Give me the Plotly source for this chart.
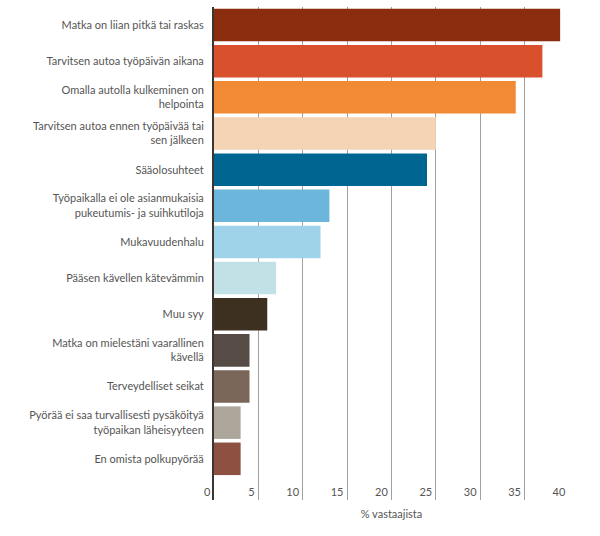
import plotly.graph_objects as go

categories = [
    "Matka on liian pitkä tai raskas",
    "Tarvitsen autoa työpäivän aikana",
    "Omalla autolla kulkeminen on<br>helpointa",
    "Tarvitsen autoa ennen työpäivää tai<br>sen jälkeen",
    "Sääolosuhteet",
    "Työpaikalla ei ole asianmukaisia<br>pukeutumis- ja suihkutiloja",
    "Mukavuudenhalu",
    "Pääsen kävellen kätevämmin",
    "Muu syy",
    "Matka on mielestäni vaarallinen<br>kävellä",
    "Terveydelliset seikat",
    "Pyörää ei saa turvallisesti pysäköityä<br>työpaikan läheisyyteen",
    "En omista polkupyörää",
]
values = [39, 37, 34, 25, 24, 13, 12, 7, 6, 4, 4, 3, 3]
colors = ["#8a2c0e", "#d9512c", "#f08a35", "#f4d4b4", "#006590", "#6cb6dc",
          "#9fd3e9", "#c2e1e7", "#3e3020", "#564b45", "#7a6759", "#ada69b", "#8c5141"]
tick_values = [0, 5, 10, 15, 20, 25, 30, 35, 40]
tick_labels = ["0", "5", "10", "15", "20", "25", "30", "35", "40"]

fig = go.Figure(go.Bar(
    x=values, y=categories, orientation="h",
    marker=dict(color=colors, line=dict(width=0)),
    hoverinfo="x+y",
))

font_family = "Lato"
n = len(categories)
fig.update_layout(
    width=600, height=536,
    margin=dict(l=214, r=31, t=7, b=36),
    plot_bgcolor="white", paper_bgcolor="white",
    bargap=0.1,
    showlegend=False,
    font=dict(family=font_family, size=11, color="#555555"),
)
fig.update_xaxes(
    range=[0, 40], tickvals=tick_values,
    ticktext=[t + "\u2004" for t in tick_labels], automargin=False,
    showgrid=True, gridcolor="#a0a0a0", gridwidth=1,
    zeroline=False, showline=False, ticks="",
    ticklabelposition="outside left", ticklabelstandoff=-16,
    tickfont=dict(size=11, color="#555555"),
    title=dict(text="% vastaajista", font=dict(size=11, color="#555555"), standoff=13),
)
fig.update_yaxes(
    type="category", range=[n - 0.5 + 0.64, -0.5], automargin=False,
    showgrid=False, zeroline=False,
    showline=True, linecolor="#3c3530", linewidth=2,
    ticks="", ticklabelstandoff=6,
    tickfont=dict(size=11, color="#555555"),
)
fig.write_html(
    "out.html",
    config={"displayModeBar": False},
    post_script="document.body.style.margin='0';document.body.style.overflow='hidden';",
)
